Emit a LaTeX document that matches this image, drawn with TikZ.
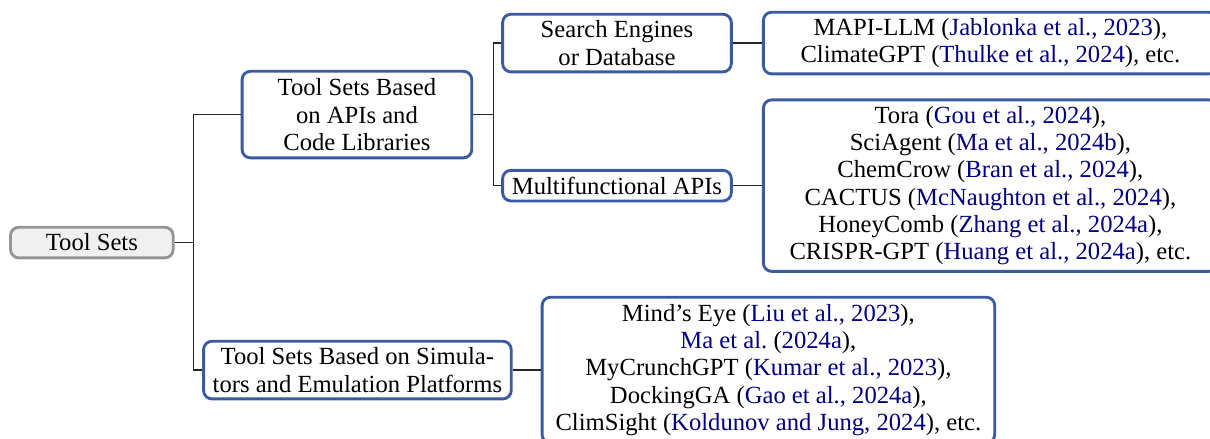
\documentclass[tikz,border=0pt]{standalone}
\usepackage{fontspec}
\setmainfont{Liberation Serif}
\usetikzlibrary{positioning}

\definecolor{catblue}{RGB}{58,91,160}
\definecolor{rootgray}{RGB}{150,150,150}
\definecolor{rootfill}{RGB}{240,240,240}
\definecolor{citeblue}{rgb}{0,0,0.5}
\newcommand{\ct}[1]{\textcolor{citeblue}{#1}}

\tikzset{
  rootbox/.style={draw=rootgray, fill=rootfill, line width=1.2pt, rounded corners=3.5pt,
    align=center, inner xsep=3pt, inner ysep=2pt, font=\fontsize{10.3}{11.4}\selectfont},
  catbox/.style={draw=catblue, fill=white, line width=1.2pt, rounded corners=3.5pt,
    align=center, inner xsep=3pt, inner ysep=2pt, font=\fontsize{10.3}{11.4}\selectfont},
  link/.style={line width=0.6pt, black!85}
}

\begin{document}
\begin{tikzpicture}
    \useasboundingbox (0,-82.1pt) rectangle (505.8pt,101.4pt);
    \node[rootbox, anchor=west, minimum width=68pt, minimum height=12.8pt] (root) at (3.8pt,0) {Tool Sets};
    \node[catbox, minimum width=96pt, minimum height=36.2pt, right=27.6pt of root.east, yshift=53.5pt] (apis) {Tool Sets Based\\on APIs and\\Code Libraries};
    \node[catbox, minimum width=128.6pt, minimum height=24.1pt, right=11.5pt of root.east, yshift=-53.3pt] (sim) {Tool Sets Based on Simula-\\tors and Emulation Platforms};
    \node[catbox, minimum width=95.6pt, minimum height=24.1pt, right=11.7pt of apis.east, yshift=29.9pt] (search) {Search Engines\\or Database};
    \node[catbox, minimum width=95.6pt, minimum height=12.8pt, right=11.7pt of apis.east, yshift=-29.7pt] (multi) {Multifunctional APIs};
    \node[catbox, minimum width=189.8pt, minimum height=25.8pt, right=12.2pt of search.east] (mapi) {MAPI-LLM (\ct{Jablonka et al., 2023}),\\ClimateGPT (\ct{Thulke et al., 2024}), etc.};
    \node[catbox, minimum width=189.8pt, minimum height=71.7pt, right=12.2pt of multi.east] (tora) {Tora (\ct{Gou et al., 2024}),\\SciAgent (\ct{Ma et al., 2024b}),\\ChemCrow (\ct{Bran et al., 2024}),\\CACTUS (\ct{McNaughton et al., 2024}),\\HoneyComb (\ct{Zhang et al., 2024a}),\\CRISPR-GPT (\ct{Huang et al., 2024a}), etc.};
    \node[catbox, minimum width=189.2pt, minimum height=60.9pt, right=11.7pt of sim.east] (mind) {Mind's Eye (\ct{Liu et al., 2023}),\\\ct{Ma et al.\ }(\ct{2024a}),\\MyCrunchGPT (\ct{Kumar et al., 2023}),\\DockingGA (\ct{Gao et al., 2024a}),\\ClimSight (\ct{Koldunov and Jung, 2024}), etc.};

    \draw[link] (root.east) -- ++(8pt,0) |- (apis.west);
    \draw[link] (root.east) -- ++(8pt,0) |- (sim.west);
    \draw[link] (apis.east) -- ++(8.4pt,0) |- (search.west);
    \draw[link] (apis.east) -- ++(8.4pt,0) |- (multi.west);
    \draw[link] (search) -- (mapi);
    \draw[link] (multi) -- (tora);
    \draw[link] (sim) -- (mind);
\end{tikzpicture}
\end{document}
